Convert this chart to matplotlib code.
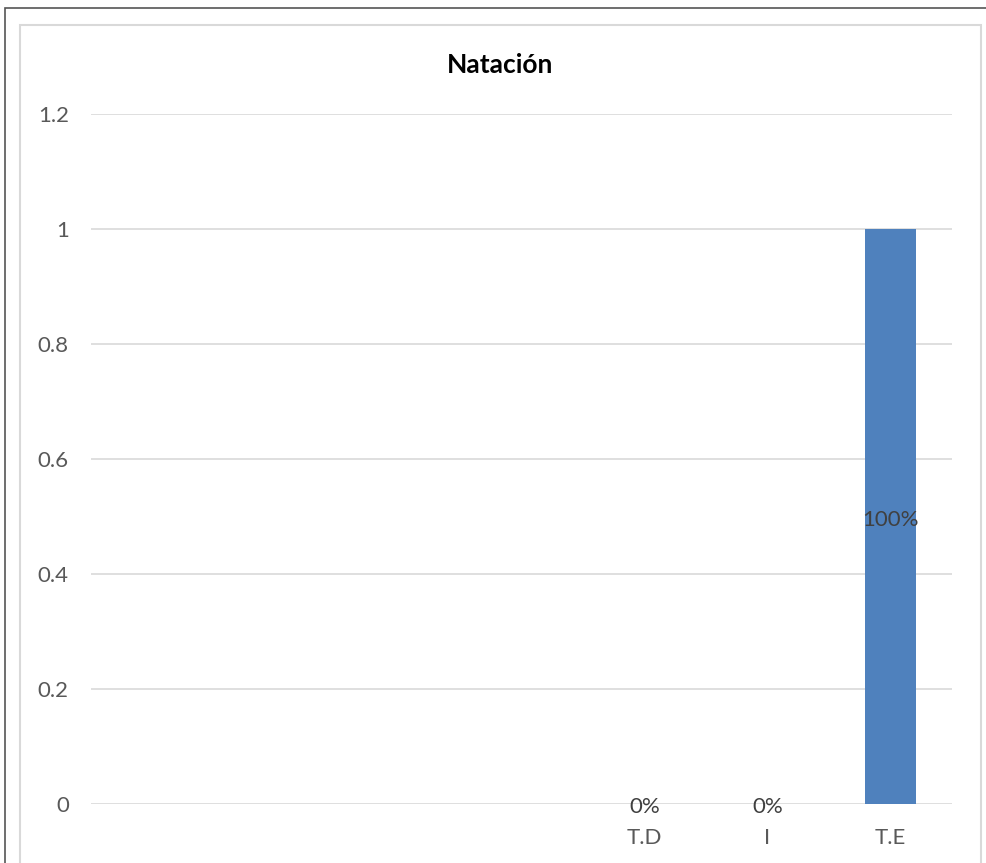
import matplotlib.pyplot as plt
from matplotlib.patches import Rectangle

plt.rcParams['font.family'] = ['Lato', 'DejaVu Sans']

# datos
categorias = ['', '', '', '', 'T.D', 'I', 'T.E']
valores = [None, None, None, None, 0, 0, 1]
etiquetas = ['', '', '', '', '0%', '0%', '100%']
yticks = [0, 0.2, 0.4, 0.6, 0.8, 1, 1.2]
ytick_labels = ['0', '0.2', '0.4', '0.6', '0.8', '1', '1.2']

fig = plt.figure(figsize=(9.87, 8.63), dpi=100)
ax = fig.add_axes([91 / 987, 59 / 863, 861 / 987, 690 / 863])

x = list(range(len(categorias)))
alturas = [v if v is not None else 0 for v in valores]
ax.bar(x, alturas, width=0.41, color='#4F81BD', zorder=3)

# etiquetas de datos (centradas en la barra)
for xi, v, txt in zip(x, valores, etiquetas):
    if v is None:
        continue
    ax.annotate(txt, (xi, v / 2), xytext=(0, -3), textcoords='offset pixels',
                ha='center', va='center', fontsize=16, color='#404040',
                zorder=4)

ax.set_xlim(-0.5, len(categorias) - 0.5)
ax.set_ylim(0, 1.2)
ax.set_yticks(yticks)
ax.set_yticklabels(ytick_labels)
ax.set_xticks(x)
ax.set_xticklabels(categorias)
ax.tick_params(axis='both', length=0, labelsize=16, labelcolor='#595959')
ax.tick_params(axis='y', pad=16)
ax.tick_params(axis='x', pad=17)
ax.grid(axis='y', color='#D9D9D9', linewidth=1.2, zorder=0)
for s in ax.spines.values():
    s.set_visible(False)

fig.text(500 / 987, 1 - 65 / 863, 'Natación', ha='center', va='center',
         fontsize=19, fontweight='bold', color='black')

# bordes
fig.add_artist(Rectangle((20 / 987, -0.05), 961 / 987, 1.05 - 25 / 863,
                         transform=fig.transFigure, fill=False,
                         edgecolor='#D9D9D9', linewidth=1.5))
fig.add_artist(Rectangle((5 / 987, -0.05), 1.0, 1.05 - 8 / 863,
                         transform=fig.transFigure, fill=False,
                         edgecolor='#555555', linewidth=1.2))

fig.savefig('out.png', dpi=100)
